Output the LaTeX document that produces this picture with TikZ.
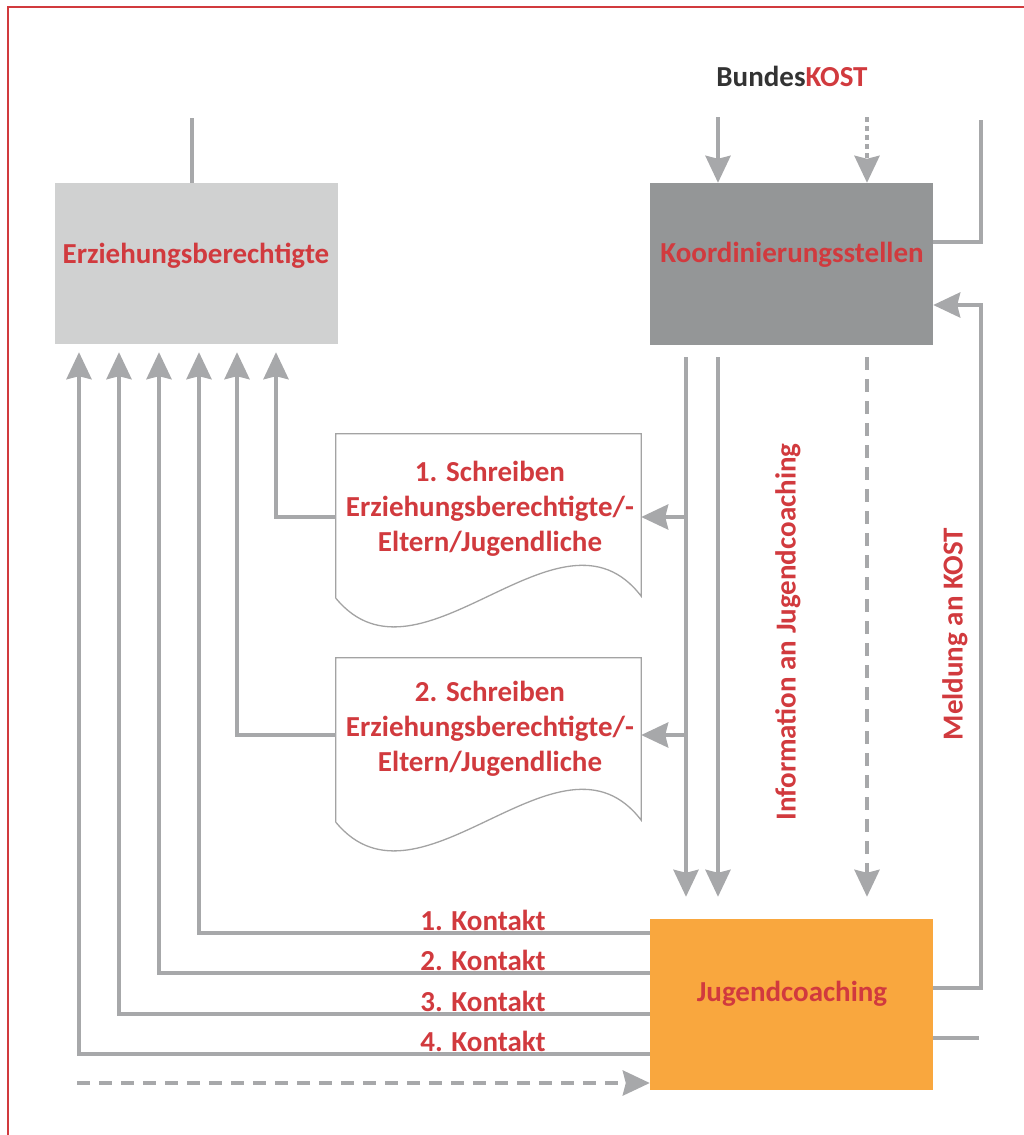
\documentclass[tikz,border=0pt]{standalone}
\usepackage{fontspec}
\setmainfont{Carlito}
\usetikzlibrary{arrows.meta}
\definecolor{cred}{HTML}{D13A3E}
\definecolor{cline}{HTML}{A7A8AA}
\definecolor{cerz}{HTML}{D0D1D1}
\definecolor{ckoord}{HTML}{949697}
\definecolor{cjug}{HTML}{F9A73E}
\definecolor{cdark}{HTML}{333333}
\definecolor{cdoc}{HTML}{A3A3A3}
\begin{document}
\begin{tikzpicture}[x=1pt,y=-1pt,
  box/.style={minimum width=283pt, minimum height=161pt, inner sep=0pt, draw=none},
  lbl/.style={text=cred, font=\fontsize{29}{35}\selectfont\bfseries, inner sep=0pt},
  conn/.style={draw=cline, line width=4pt},
  arr/.style={conn, -{Stealth[length=27pt,width=25pt,inset=3pt]}},
  dsh/.style={dash pattern=on 13pt off 9pt},
  dot/.style={dash pattern=on 5pt off 4pt},
  docbox/.style={minimum width=305pt, minimum height=164pt, inner sep=0pt},
  docshape/.style={draw=cdoc, line width=1.3pt, fill=white}]
\useasboundingbox (0,0) rectangle (1023,1135);
\draw[cred, line width=2.5pt] (8,1140) -- (8,7) -- (1030,7);

% main boxes
\node[box, fill=cerz] (erz) at (196.5,263.5) {};
\node[lbl, anchor=base] (erzt) at (196,263) {Erziehungsberechtigte};
\node[box, fill=ckoord, minimum height=162pt] (koord) at (791.5,264) {};
\node[lbl, anchor=base] (koordt) at (792,262) {Koordinierungsstellen};
\node[box, fill=cjug, minimum height=171pt] (jug) at (791.5,1004.5) {};
\node[lbl, anchor=base] (jugt) at (792,1001) {Jugendcoaching};

% BundesKOST
\node[lbl, anchor=base] (bk) at (792,86) {\textcolor{cdark}{Bundes}\textcolor{cred}{KOST}};
\coordinate (bk1) at (718,117);
\coordinate (bk2) at (867,117);
\draw[arr] (bk1) -- (koord.north -| bk1);
\draw[arr, dot] (bk2) -- (koord.north -| bk2);

% line above Erziehungsberechtigte
\coordinate (etop) at (192,118);
\draw[conn] (etop) -- (erz.north -| etop);

% right side lines
\coordinate (rtop) at (981,120);
\draw[conn] (koord.east |- 0,242) -| (rtop);
\draw[arr] (jug.east |- 0,988) -| (981,305) -- (koord.east |- 0,305);
\coordinate (rstub) at (979,1038);
\draw[conn] (jug.east |- rstub) -- (rstub);

% documents
\node[docbox] (doc1) at (488.5,516) {};
\draw[docshape] (doc1.south west) -- (doc1.north west) -- (doc1.north east) -- ([yshift=2pt]doc1.south east)
  .. controls (560,490) and (420,700) .. (doc1.south west);
\node[lbl, align=center] (doc1t) at (490,509) {1. Schreiben\\Erziehungsberechtigte/-\\Eltern/Jugendliche};

\node[docbox] (doc2) at (488.5,740) {};
\draw[docshape] (doc2.south west) -- (doc2.north west) -- (doc2.north east) -- ([yshift=2pt]doc2.south east)
  .. controls (560,714) and (420,924) .. (doc2.south west);
\node[lbl, align=center] (doc2t) at (490,729) {2. Schreiben\\Erziehungsberechtigte/-\\Eltern/Jugendliche};

% lines from Koordinierungsstellen down
\coordinate (k1) at (686,357);
\coordinate (k2) at (718,357);
\coordinate (k3) at (867,357);
\draw[arr, shorten >=22pt] (k1) -- (jug.north -| k1);
\draw[arr, shorten >=22pt] (k2) -- (jug.north -| k2);
\draw[arr, dsh, shorten >=22pt] (k3) -- (jug.north -| k3);

\draw[arr] (k1 |- 0,517) -- (doc1.east |- 0,517);
\draw[arr] (k1 |- 0,735) -- (doc2.east |- 0,735);

\draw[arr, shorten >=8pt] (doc1.west |- 0,517) -| (erz.south -| 276,0);
\draw[arr, shorten >=8pt] (doc2.west |- 0,735) -| (erz.south -| 237,0);

% vertical labels
\node[lbl, rotate=90] (info) at (788,632) {Information an Jugendcoaching};
\node[lbl, rotate=90] (meld) at (955,634) {Meldung an KOST};

% Kontakt lines
\draw[arr, shorten >=8pt] (jug.west |- 0,933) -| (erz.south -| 199,0);
\draw[arr, shorten >=8pt] (jug.west |- 0,973) -| (erz.south -| 159,0);
\draw[arr, shorten >=8pt] (jug.west |- 0,1014) -| (erz.south -| 119,0);
\draw[arr, shorten >=8pt] (jug.west |- 0,1054) -| (erz.south -| 79,0);
\node[lbl, anchor=base] (kt1) at (483,930) {1. Kontakt};
\node[lbl, anchor=base] (kt2) at (483,970) {2. Kontakt};
\node[lbl, anchor=base] (kt3) at (483,1011) {3. Kontakt};
\node[lbl, anchor=base] (kt4) at (483,1051) {4. Kontakt};

% dashed bottom arrow
\coordinate (dstart) at (77,1083);
\draw[arr, dsh] (dstart) -- (jug.west |- dstart);
\end{tikzpicture}
\end{document}
